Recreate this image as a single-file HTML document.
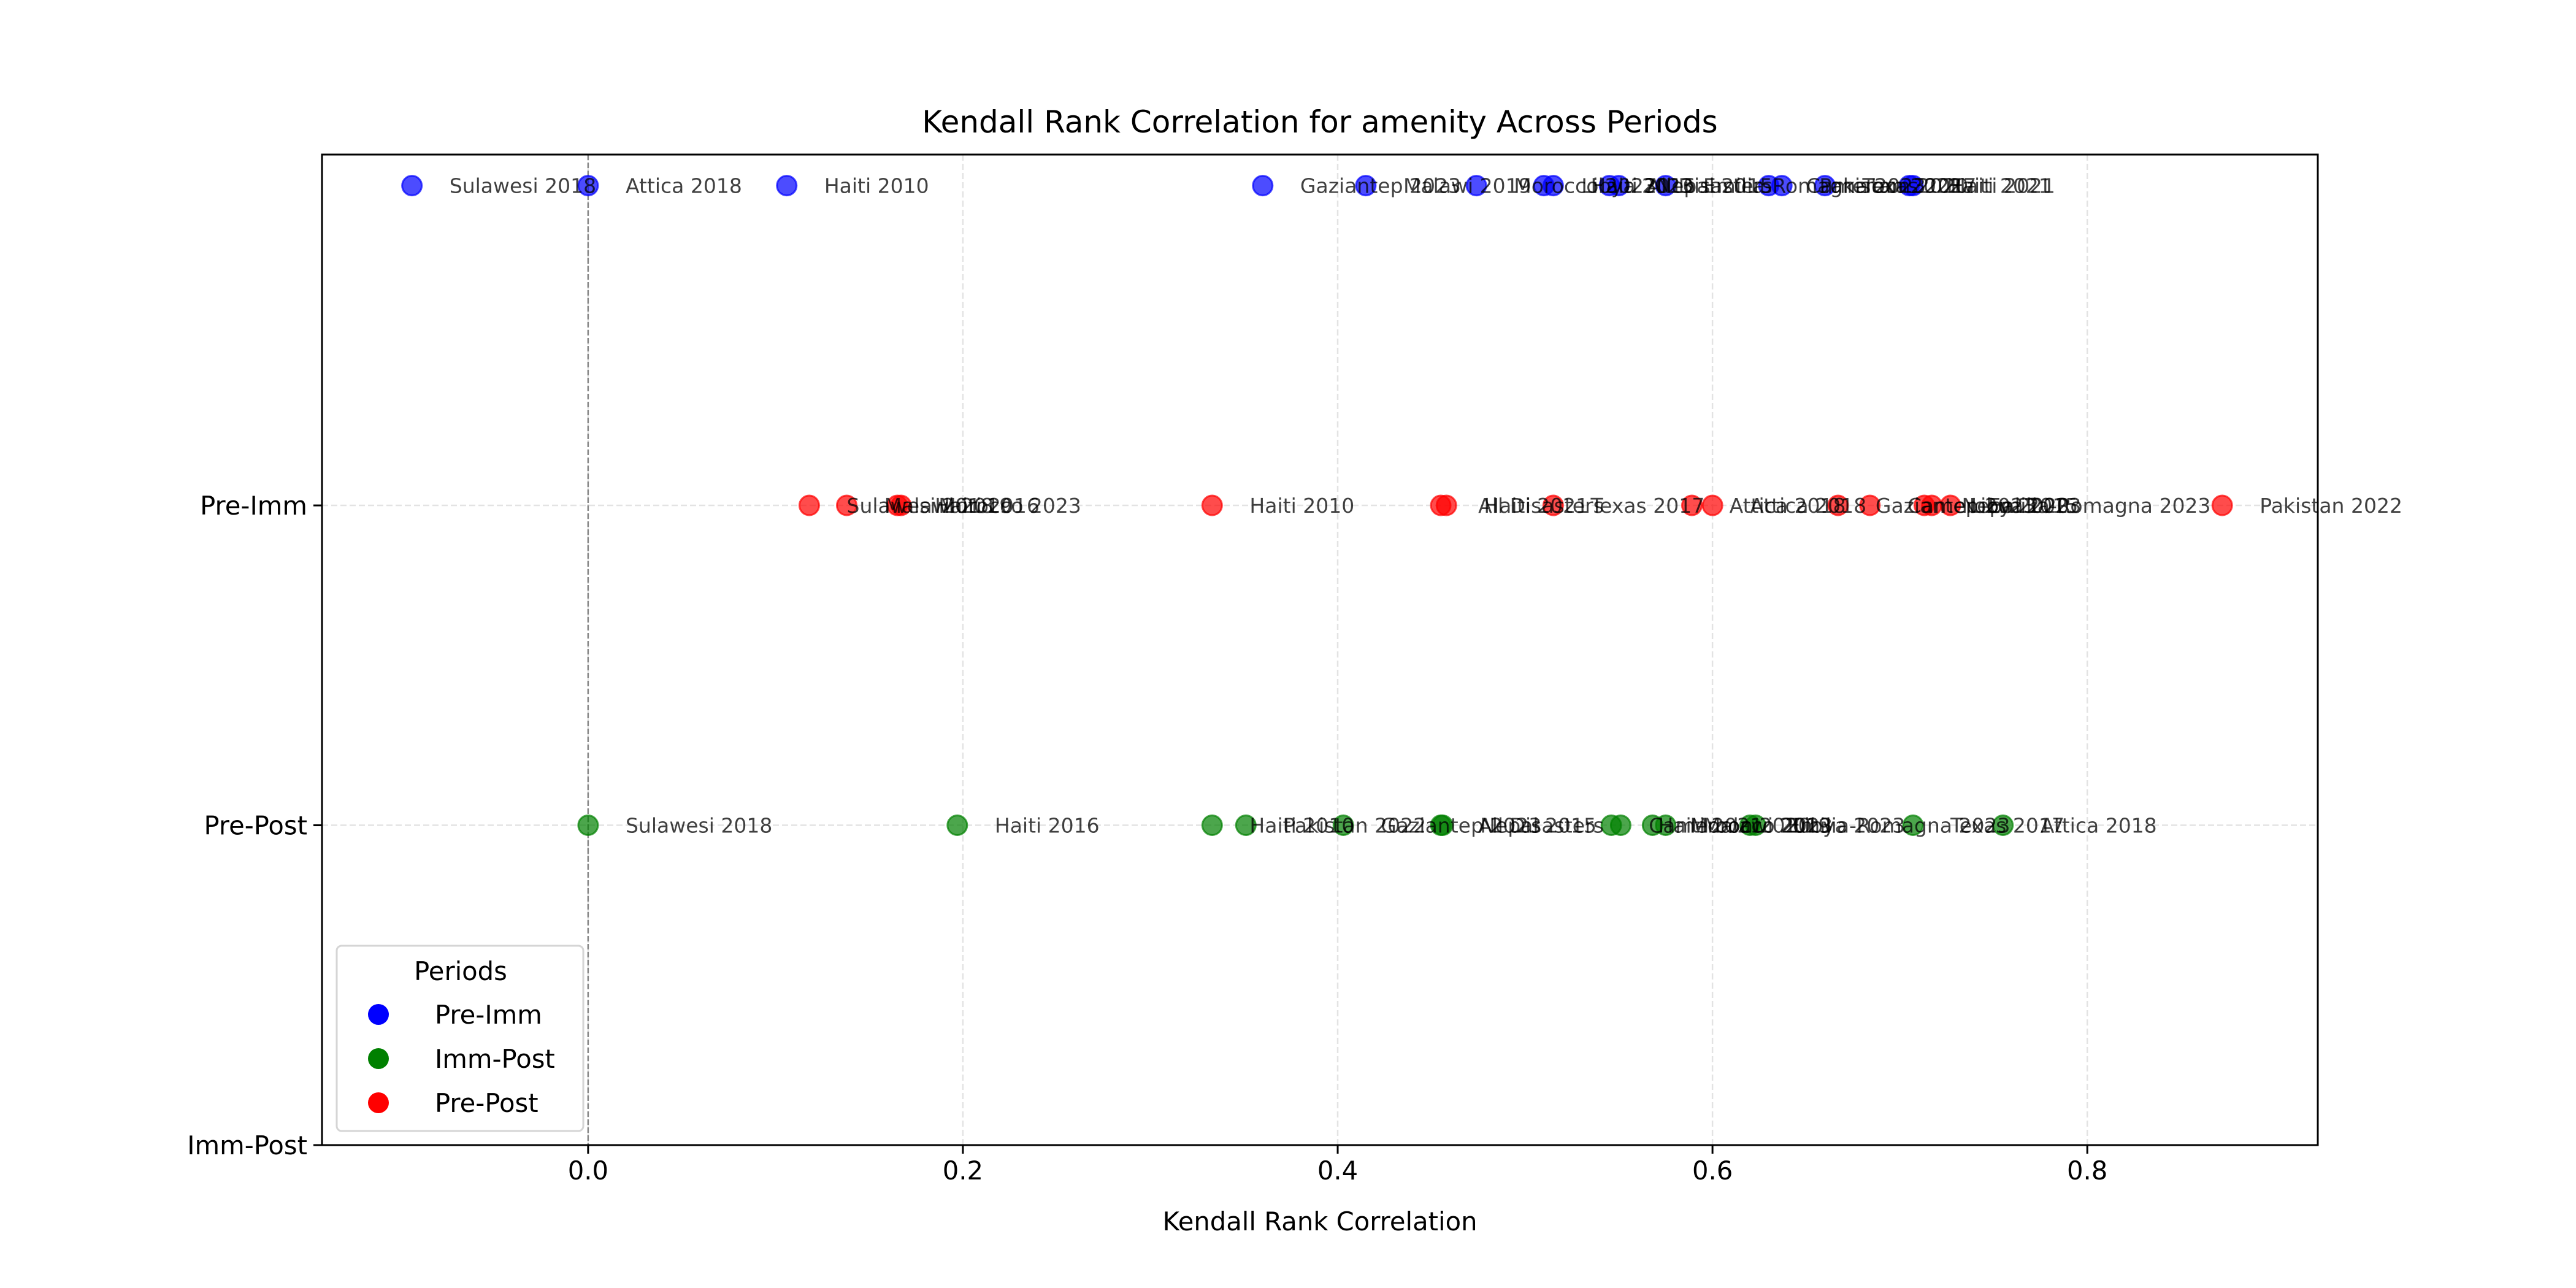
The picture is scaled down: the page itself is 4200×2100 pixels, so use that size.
<!DOCTYPE html>
<html><head><meta charset="utf-8"><style>
html,body{margin:0;padding:0;background:#fff}
svg{display:block;font-family:"DejaVu Sans","Liberation Sans",sans-serif}
</style></head><body>
<svg id="chart" width="4200" height="2100" viewBox="0 0 4200 2100">
<rect width="4200" height="2100" fill="#fff"/>
<g id="grid"></g><g id="marks"></g><g id="axes"></g>
</svg>
<script>
const preImmLabels=["Sulawesi 2018","Attica 2018","Haiti 2010","Gaziantep 2023","Malawi 2019","Morocco 2023","Libya 2023","Haiti 2016","All Disasters","Nepal 2015","Emilia-Romagna 2023","Cameroon 2020","Pakistan 2022","Texas 2017","Haiti 2021","Haiti 2021"];
const preImmValues=[-0.094,0.0,0.106,0.36,0.415,0.474,0.51,0.515,0.545,0.55,0.575,0.63,0.637,0.66,0.705,0.707];
const prePostLabels=["Sulawesi 2018","Malawi 2019","Haiti 2016","Morocco 2023","Haiti 2010","All Disasters","Haiti 2021","Texas 2017","Attica 2018","Attica 2018","Gaziantep 2023","Cameroon 2020","Nepal 2015","Libya 2023","Emilia-Romagna 2023","Pakistan 2022"];
const prePostValues=[0.118,0.138,0.165,0.167,0.333,0.455,0.458,0.515,0.589,0.6,0.667,0.684,0.713,0.717,0.727,0.872];
const immPostLabels=["Sulawesi 2018","Haiti 2016","Haiti 2010","Pakistan 2022","Gaziantep 2023","All Disasters","Nepal 2015","Cameroon 2020","Haiti 2021","Morocco 2023","Malawi 2019","Emilia-Romagna 2023","Libya 2023","Texas 2017","Attica 2018"];
const immPostValues=[0.0,0.197,0.333,0.351,0.403,0.455,0.456,0.546,0.551,0.568,0.575,0.62,0.623,0.707,0.755];
const xTicks=[0.0,0.2,0.4,0.6,0.8];
const xTickLabels=["0.0","0.2","0.4","0.6","0.8"];
const yTicks=[0,1,2];
const yTickLabels=["Imm-Post","Pre-Post","Pre-Imm"];

const L=525,R=3779,T=252,B=1867,XMIN=-0.142,XMAX=0.923,YMIN=0,YMAX=3.097;
const sx=v=>L+(v-XMIN)/(XMAX-XMIN)*(R-L);
const sy=v=>B-(v-YMIN)/(YMAX-YMIN)*(B-T);
const NS="http://www.w3.org/2000/svg";
function mk(tag,attrs,parent,text){const e=document.createElementNS(NS,tag);for(const k in attrs)e.setAttribute(k,attrs[k]);if(text!==undefined)e.textContent=text;parent.appendChild(e);return e;}
const grid=document.getElementById('grid'),marks=document.getElementById('marks'),axes=document.getElementById('axes');

xTicks.forEach((t,i)=>{
 const g=mk('line',{x1:sx(t),x2:sx(t),y1:T,y2:B,stroke:'#e3e3e3','stroke-width':2.5,'stroke-dasharray':'10,5'},grid);
 
 
});
yTicks.forEach(t=>{
 const g=mk('line',{x1:L,x2:R,y1:sy(t),y2:sy(t),stroke:'#e3e3e3','stroke-width':2.5,'stroke-dasharray':'10,5'},grid);
 
 
});
const zl=mk('line',{x1:sx(0),x2:sx(0),y1:T,y2:B,stroke:'#888','stroke-width':2.5,'stroke-dasharray':'9,4'},grid);



function series(vals,labels,yv,color,name){
 vals.forEach((v,i)=>{
  const c=mk('circle',{cx:sx(v),cy:sy(yv),r:16,fill:color,'fill-opacity':0.7,stroke:color,'stroke-opacity':0.7,'stroke-width':3},marks);
  
  
 });
 vals.forEach((v,i)=>{
  const t=mk('text',{x:sx(v+0.02),y:sy(yv)+12,'font-size':33,fill:'#000','fill-opacity':0.75},marks,labels[i]);
  
  
 });
}
series(preImmValues,preImmLabels,3,'#0000ff','pre-imm');
series(prePostValues,prePostLabels,2,'#ff0000','pre-post');
series(immPostValues,immPostLabels,1,'#008000','imm-post');

const fr=mk('rect',{x:L,y:T,width:R-L,height:B-T,fill:'none',stroke:'#000','stroke-width':3},axes);


xTicks.forEach((t,i)=>{
 mk('line',{x1:sx(t),x2:sx(t),y1:B,y2:B+14,stroke:'#000','stroke-width':3},axes);
 const tl=mk('text',{x:sx(t),y:B+56,'font-size':41.7,'text-anchor':'middle'},axes,xTickLabels[i]);
 
 
});
yTicks.forEach((t,i)=>{
 mk('line',{x1:L-14,x2:L,y1:sy(t),y2:sy(t),stroke:'#000','stroke-width':3},axes);
 const tl=mk('text',{x:L-24,y:sy(t)+15,'font-size':41.7,'text-anchor':'end','textLength':undefined},axes,yTickLabels[i]);
 tl.removeAttribute('textLength');
 
 
});
const xt=mk('text',{x:(L+R)/2,y:2006,'font-size':41.7,'text-anchor':'middle'},axes,'Kendall Rank Correlation');


const ti=mk('text',{x:(L+R)/2,y:216,'font-size':50,'text-anchor':'middle'},axes,'Kendall Rank Correlation for amenity Across Periods');



const lg=mk('g',{},axes);


mk('rect',{x:549,y:1542,width:402,height:302,rx:8,fill:'#fff','fill-opacity':0.8,stroke:'#d5d5d5','stroke-width':3},lg);
mk('text',{x:751,y:1598,'font-size':41.7,'text-anchor':'middle'},lg,'Periods');
const legNames=["Pre-Imm","Imm-Post","Pre-Post"],legColors=["#0000ff","#008000","#ff0000"];
legNames.forEach((n,i)=>{
 const y=1654+i*72;
 const d=mk('circle',{cx:617,cy:y,r:17,fill:legColors[i]},lg);
 
 
 const t=mk('text',{x:709,y:y+15,'font-size':41.7},lg,n);
 
 
});
</script>
</body></html>
